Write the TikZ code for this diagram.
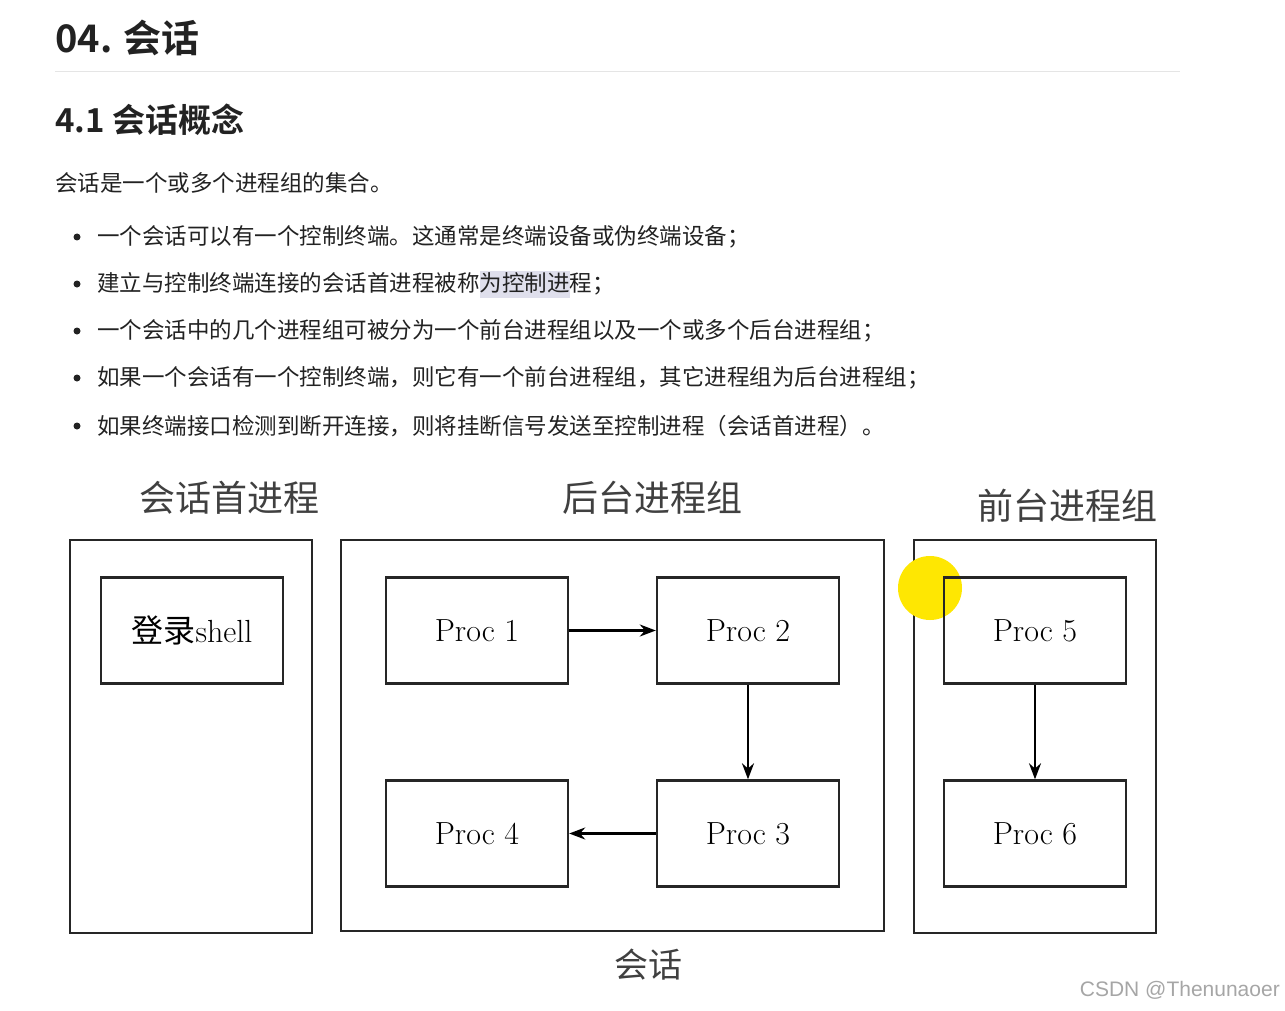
\documentclass[tikz,border=0pt]{standalone}
\usepackage{fontspec}
\setmainfont{Latin Modern Roman}
\newfontfamily\cjk{Noto Sans CJK SC}
\newfontfamily\cjkb{Noto Sans CJK SC Bold}
\usetikzlibrary{arrows.meta}
\definecolor{txt}{HTML}{222222}
\tikzset{
  boxp/.style={draw=black!85,line width=2.4pt},
  procb/.style={boxp,minimum width=182pt,minimum height=106pt,inner sep=0pt,font=\fontsize{32}{34}\selectfont},
  arr/.style={line width=2.4pt,-{Stealth[length=16pt,width=12pt]}},
  body/.style={anchor=west,inner sep=0pt,text=txt,font=\cjk\fontsize{22.5}{24}\selectfont},
  glabel/.style={inner sep=0pt,text=black!75,font=\cjk\fontsize{36}{38}\selectfont}
}
\begin{document}
\begin{tikzpicture}[x=1pt,y=-1pt]
\useasboundingbox (0,0) rectangle (1285,1011);
\fill[white] (0,0) rectangle (1285,1011);
\node[anchor=west,inner sep=0pt,text=txt,font=\cjkb\fontsize{38}{40}\selectfont] (t1) at (55,38) {04. 会话};
\draw[black!10,line width=1pt] (55,72) -- (1180,72);
\node[anchor=west,inner sep=0pt,text=txt,font=\cjkb\fontsize{33}{35}\selectfont] (t2) at (55,120) {4.1 会话概念};
\fill[blue!25!gray!20] (480,271) rectangle (570,298);
\node[body] (p0) at (55,183) {会话是一个或多个进程组的集合。};
\foreach \y/\t [count=\i] in {237/{一个会话可以有一个控制终端。这通常是终端设备或伪终端设备；},
  284/{建立与控制终端连接的会话首进程被称为控制进程；},
  331/{一个会话中的几个进程组可被分为一个前台进程组以及一个或多个后台进程组；},
  378/{如果一个会话有一个控制终端，则它有一个前台进程组，其它进程组为后台进程组；},
  426/{如果终端接口检测到断开连接，则将挂断信号发送至控制进程（会话首进程）。}}{
  \fill[txt] (77,\y) circle (3.5pt);
  \node[body] (b\i) at (97,\y) {\t};
}
\node[glabel] (l1) at (229,498) {会话首进程};
\node[glabel] (l2) at (652,498) {后台进程组};
\node[glabel] (l3) at (1067,506) {前台进程组};
\node[glabel,font=\cjk\fontsize{34}{36}\selectfont] (l4) at (648,965) {会话};
\draw[boxp] (70,540) rectangle (312,933);
\draw[boxp] (341,540) rectangle (884,931);
\draw[boxp] (914,540) rectangle (1156,933);
\fill[yellow!90!orange] (930,588) circle (32pt);
\node[procb] (sh) at (192,630.5) {{\cjk 登录}shell};
\node[procb] (p1) at (477,630.5) {Proc 1};
\node[procb] (p2) at (748,630.5) {Proc 2};
\node[procb] (p3) at (748,833.5) {Proc 3};
\node[procb] (p4) at (477,833.5) {Proc 4};
\node[procb] (p5) at (1035,630.5) {Proc 5};
\node[procb] (p6) at (1035,833.5) {Proc 6};
\draw[arr] (p1) -- (p2);
\draw[arr] (p2) -- (p3);
\draw[arr] (p3) -- (p4);
\draw[arr] (p5) -- (p6);
\node[anchor=east,inner sep=0pt,text=black!35,font=\fontspec{Liberation Sans}\fontsize{21}{23}\selectfont] (wm) at (1280,990) {CSDN @Thenunaoer};
\end{tikzpicture}
\end{document}
